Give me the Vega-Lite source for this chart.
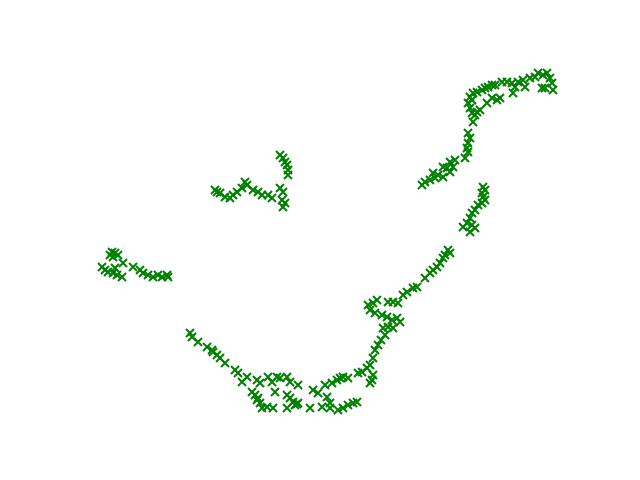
{
  "$schema": "https://vega.github.io/schema/vega-lite/v6.json",
  "width": 640, "height": 480, "padding": 0,
  "autosize": {"type": "fit", "contains": "padding"},
  "config": {"view": {"stroke": null}},
  "data": {"values": [
    {"x":112,"y":252},{"x":115,"y":253},{"x":110,"y":255},{"x":113,"y":257},{"x":118,"y":255},
    {"x":102,"y":267},{"x":105,"y":270},{"x":108,"y":272},{"x":113,"y":273},{"x":117,"y":275},{"x":122,"y":277},{"x":115,"y":268},{"x":123,"y":263},
    {"x":133,"y":267},{"x":140,"y":270},{"x":143,"y":273},{"x":148,"y":275},{"x":153,"y":277},{"x":158,"y":275},{"x":162,"y":277},{"x":167,"y":275},{"x":168,"y":277},
    {"x":217,"y":192},{"x":220,"y":193},{"x":215,"y":190},{"x":225,"y":197},{"x":230,"y":198},{"x":233,"y":195},{"x":237,"y":192},{"x":242,"y":188},{"x":245,"y":182},{"x":247,"y":185},
    {"x":253,"y":190},{"x":258,"y":192},{"x":262,"y":195},{"x":268,"y":195},{"x":272,"y":198},
    {"x":280,"y":188},{"x":283,"y":192},{"x":282,"y":200},{"x":285,"y":203},{"x":283,"y":207},
    {"x":280,"y":155},{"x":283,"y":158},{"x":285,"y":162},{"x":287,"y":165},{"x":288,"y":170},{"x":288,"y":175},
    {"x":190,"y":333},{"x":192,"y":337},{"x":198,"y":342},{"x":207,"y":347},{"x":212,"y":350},{"x":213,"y":352},{"x":217,"y":355},{"x":220,"y":358},{"x":225,"y":363},{"x":235,"y":370},{"x":238,"y":373},
    {"x":242,"y":382},{"x":247,"y":377},{"x":257,"y":380},{"x":260,"y":383},{"x":252,"y":392},{"x":255,"y":395},{"x":257,"y":400},{"x":260,"y":403},{"x":262,"y":408},{"x":258,"y":398},
    {"x":268,"y":377},{"x":272,"y":382},{"x":277,"y":377},{"x":280,"y":378},{"x":287,"y":377},{"x":290,"y":382},{"x":275,"y":392},{"x":273,"y":408},{"x":267,"y":407},
    {"x":287,"y":395},{"x":290,"y":398},{"x":287,"y":408},{"x":295,"y":405},{"x":297,"y":404},
    {"x":298,"y":385},{"x":293,"y":402},{"x":298,"y":403},{"x":310,"y":408},{"x":313,"y":390},{"x":318,"y":393},{"x":322,"y":407},{"x":325,"y":385},{"x":327,"y":397},{"x":330,"y":403},{"x":332,"y":383},{"x":337,"y":380},{"x":340,"y":378},{"x":343,"y":377},{"x":348,"y":378},{"x":338,"y":410},{"x":343,"y":408},{"x":348,"y":405},{"x":353,"y":403},{"x":357,"y":402},{"x":358,"y":373},{"x":362,"y":372},{"x":367,"y":368},{"x":370,"y":365},{"x":372,"y":380},{"x":370,"y":383},{"x":373,"y":375},{"x":330,"y":408},
    {"x":373,"y":358},{"x":375,"y":350},{"x":378,"y":345},{"x":381,"y":340},{"x":385,"y":335},
    {"x":448,"y":250},{"x":450,"y":253},{"x":445,"y":255},{"x":443,"y":258},{"x":440,"y":263},{"x":437,"y":267},{"x":433,"y":270},{"x":430,"y":273},{"x":425,"y":278},{"x":417,"y":287},{"x":413,"y":288},{"x":407,"y":292},{"x":403,"y":295},
    {"x":398,"y":303},{"x":393,"y":302},{"x":388,"y":302},{"x":377,"y":300},{"x":373,"y":303},{"x":368,"y":305},{"x":370,"y":310},{"x":375,"y":313},{"x":382,"y":315},{"x":387,"y":317},{"x":392,"y":320},{"x":397,"y":318},{"x":400,"y":322},{"x":388,"y":327},{"x":383,"y":328},{"x":393,"y":328},
    {"x":468,"y":133},{"x":470,"y":138},{"x":468,"y":143},{"x":467,"y":148},{"x":468,"y":152},{"x":465,"y":158},
    {"x":455,"y":160},{"x":450,"y":162},{"x":453,"y":167},{"x":447,"y":168},{"x":443,"y":167},{"x":450,"y":172},{"x":443,"y":177},{"x":438,"y":175},{"x":435,"y":178},{"x":433,"y":173},{"x":430,"y":180},{"x":425,"y":182},{"x":422,"y":185},
    {"x":483,"y":187},{"x":485,"y":190},{"x":482,"y":193},{"x":483,"y":197},{"x":485,"y":200},{"x":482,"y":203},{"x":478,"y":205},{"x":475,"y":210},{"x":472,"y":213},{"x":470,"y":218},{"x":467,"y":223},{"x":472,"y":225},{"x":475,"y":228},{"x":463,"y":227},{"x":470,"y":232},
    {"x":470,"y":97},{"x":472,"y":100},{"x":468,"y":103},{"x":470,"y":108},{"x":472,"y":113},{"x":475,"y":115},{"x":473,"y":122},{"x":477,"y":112},{"x":480,"y":110},{"x":487,"y":103},{"x":492,"y":98},{"x":497,"y":100},{"x":500,"y":98},
    {"x":473,"y":93},{"x":477,"y":92},{"x":482,"y":90},{"x":485,"y":88},{"x":488,"y":87},{"x":492,"y":85},{"x":495,"y":85},{"x":502,"y":82},{"x":507,"y":82},{"x":512,"y":83},{"x":515,"y":87},{"x":513,"y":93},{"x":518,"y":82},{"x":523,"y":80},{"x":525,"y":87},{"x":530,"y":78},{"x":535,"y":77},{"x":538,"y":73},{"x":543,"y":75},{"x":547,"y":73},{"x":550,"y":78},{"x":552,"y":83},{"x":553,"y":90},{"x":545,"y":88},{"x":542,"y":88}
  ]},
  "mark": {"type": "point", "shape": "M-1,-1L1,1M-1,1L1,-1", "filled": false, "color": "#008000", "strokeWidth": 2, "size": 64, "opacity": 1},
  "encoding": {
    "x": {"field": "x", "type": "quantitative", "scale": {"domain": [0, 640], "nice": false, "zero": false}, "axis": null},
    "y": {"field": "y", "type": "quantitative", "scale": {"domain": [0, 480], "nice": false, "zero": false, "reverse": true}, "axis": null}
  }
}
